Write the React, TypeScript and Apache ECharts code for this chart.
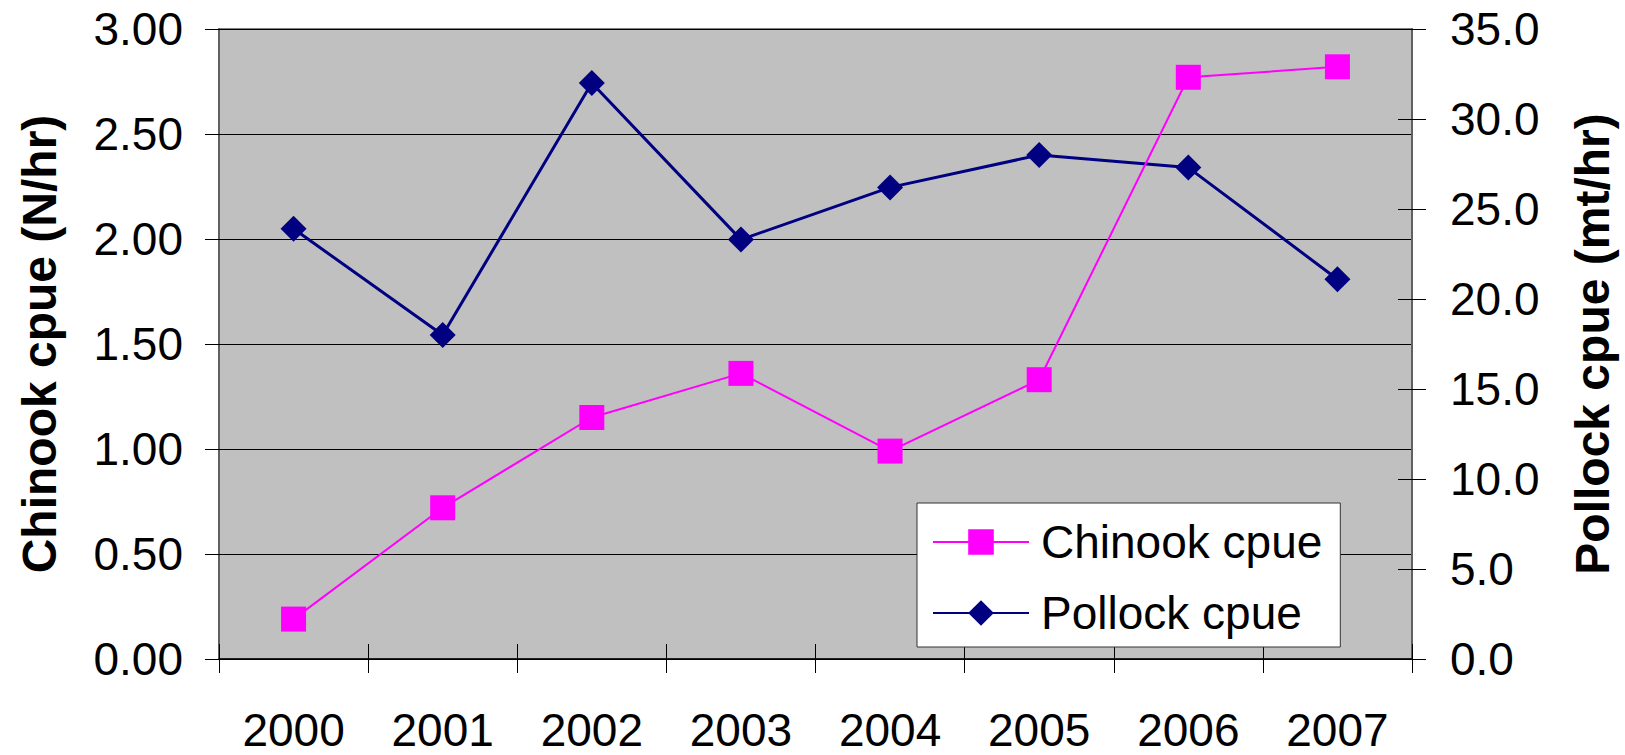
import React, { useEffect, useRef } from "react";
import * as echarts from "echarts";

const years = ["2000", "2001", "2002", "2003", "2004", "2005", "2006", "2007"];
const chinookCpue = [0.19, 0.72, 1.15, 1.36, 0.99, 1.33, 2.77, 2.82];
const pollockCpue = [23.9, 18.0, 32.0, 23.3, 26.2, 28.0, 27.3, 21.1];
const leftAxis = { min: 0, max: 3, interval: 0.5 };
const rightAxis = { min: 0, max: 35, interval: 5 };

const FONT = "Liberation Sans, Arial, sans-serif";

export default function App() {
  const ref = useRef<HTMLDivElement>(null);
  useEffect(() => {
    if (!ref.current) return;
    const chart = echarts.init(ref.current, undefined, { renderer: "svg" });
    const tickStyle = { color: "#000", width: 1 };
    chart.setOption({
      animation: false,
      backgroundColor: "#ffffff",
      textStyle: { fontFamily: FONT },
      grid: {
        left: 219,
        top: 29,
        right: 213,
        bottom: 96,
        containLabel: false,
        outerBoundsMode: "none",
        show: true,
        backgroundColor: "#C0C0C0",
        borderColor: "#808080",
        borderWidth: 2,
      },
      legend: {
        left: 917,
        top: 503,
        orient: "vertical",
        backgroundColor: "#ffffff",
        borderColor: "#333333",
        borderWidth: 1,
        borderRadius: 0,
        padding: [16, 18, 11, 15],
        itemWidth: 96,
        itemHeight: 32,
        itemGap: 25,
        textStyle: { fontSize: 46, fontFamily: FONT, color: "#000", padding: [0, 0, 0, 7] },
        data: ["Chinook cpue", "Pollock cpue"],
      },
      xAxis: [
        {
          type: "category",
          data: years,
          position: "bottom",
          boundaryGap: true,
          axisLine: { show: true, lineStyle: { color: "#000", width: 1.5 } },
          axisTick: { show: true, inside: false, length: 14, alignWithLabel: false, lineStyle: tickStyle },
          axisLabel: { fontSize: 46, lineHeight: 40, color: "#000", fontFamily: FONT, margin: 51 },
          splitLine: { show: false },
        },
        {
          type: "category",
          data: years,
          position: "bottom",
          boundaryGap: true,
          axisLine: { show: false },
          axisTick: { show: true, inside: true, length: 15, lineStyle: tickStyle },
          axisLabel: { show: false },
          splitLine: { show: false },
        },
      ],
      yAxis: [
        {
          type: "value",
          position: "left",
          ...leftAxis,
          name: "Chinook cpue (N/hr)",
          nameLocation: "middle",
          nameRotate: 90,
          nameGap: 156,
          nameTextStyle: { fontSize: 48, fontWeight: "bold", color: "#000", fontFamily: FONT },
          axisLine: { show: true, lineStyle: { color: "#606060", width: 2 } },
          axisTick: { show: true, inside: false, length: 14, lineStyle: tickStyle },
          axisLabel: {
            fontSize: 46,
            color: "#000",
            fontFamily: FONT,
            margin: 36,
            formatter: (v: number) => v.toFixed(2),
          },
          splitLine: { show: true, lineStyle: { color: "#000", width: 1 } },
        },
        {
          type: "value",
          position: "right",
          ...rightAxis,
          name: "Pollock cpue (mt/hr)",
          nameLocation: "middle",
          nameRotate: 90,
          nameGap: 156,
          nameTextStyle: { fontSize: 48, fontWeight: "bold", color: "#000", fontFamily: FONT },
          axisLine: { show: true, lineStyle: { color: "#606060", width: 2 } },
          axisTick: { show: true, inside: false, length: 14, lineStyle: tickStyle },
          axisLabel: {
            fontSize: 46,
            color: "#000",
            fontFamily: FONT,
            margin: 38,
            formatter: (v: number) => v.toFixed(1),
          },
          splitLine: { show: false },
        },
        {
          type: "value",
          position: "left",
          ...leftAxis,
          axisLine: { show: false },
          axisTick: { show: true, inside: true, length: 14, lineStyle: tickStyle },
          axisLabel: { show: false },
          splitLine: { show: false },
        },
        {
          type: "value",
          position: "right",
          ...rightAxis,
          axisLine: { show: false },
          axisTick: { show: true, inside: true, length: 14, lineStyle: tickStyle },
          axisLabel: { show: false },
          splitLine: { show: false },
        },
      ],
      series: [
        {
          name: "Chinook cpue",
          type: "line",
          xAxisIndex: 0,
          yAxisIndex: 0,
          data: chinookCpue,
          symbol: "rect",
          symbolSize: 25,
          lineStyle: { color: "#FF00FF", width: 2 },
          itemStyle: { color: "#FF00FF" },
          z: 3,
        },
        {
          name: "Pollock cpue",
          type: "line",
          xAxisIndex: 0,
          yAxisIndex: 1,
          data: pollockCpue,
          symbol: "diamond",
          symbolSize: 26,
          lineStyle: { color: "#000080", width: 3 },
          itemStyle: { color: "#000080" },
          z: 2,
        },
      ],
    });
    return () => chart.dispose();
  }, []);
  return (
    <div
      ref={ref}
      style={{ position: "absolute", left: 0, top: 0, width: 1625, height: 755 }}
    />
  );
}
